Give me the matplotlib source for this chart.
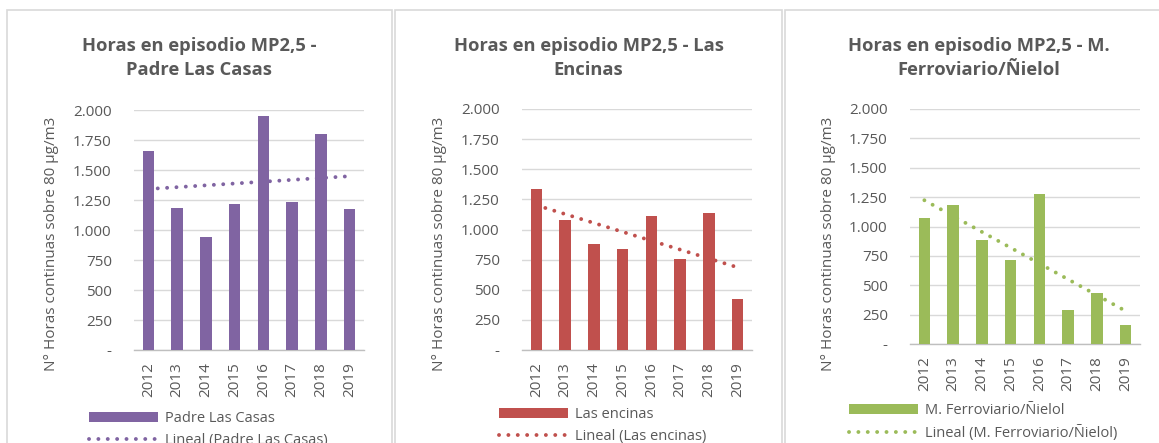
import numpy as np
import matplotlib
matplotlib.use("Agg")
import matplotlib.pyplot as plt
from matplotlib.patches import Rectangle, Patch
from matplotlib.lines import Line2D
from matplotlib.ticker import FuncFormatter

plt.rcParams['font.family'] = ['Open Sans', 'DejaVu Sans']

years = ['2012', '2013', '2014', '2015', '2016', '2017', '2018', '2019']

padre_las_casas = [1658, 1183, 944, 1217, 1953, 1236, 1797, 1172]
las_encinas = [1335, 1075, 878, 837, 1114, 753, 1136, 421]
ferroviario_nielol = [1069, 1183, 882, 718, 1277, 292, 437, 159]

titles = ['Horas en episodio MP2,5 -\nPadre Las Casas',
          'Horas en episodio MP2,5 - Las\nEncinas',
          'Horas en episodio MP2,5 - M.\nFerroviario/Ñielol']
series_names = ['Padre Las Casas', 'Las encinas', 'M. Ferroviario/Ñielol']
colors = ['#8064A2', '#C0504D', '#9BBB59']
series = [padre_las_casas, las_encinas, ferroviario_nielol]

W, H = 1159, 443
TXT = '#595959'
GRID = '#D9D9D9'

fig = plt.figure(figsize=(W / 100, H / 100), dpi=100)


def px_box(left, top, right, bottom):
    return [left / W, 1 - bottom / H, (right - left) / W, (bottom - top) / H]


def fmt(v, pos):
    if v == 0:
        return '-'
    return f'{v:,.0f}'.replace(',', '.')


# pixel layout of each panel: frame, plot area, y-label x, legend corner
panels = [
    dict(frame=(7, 392), plot=(134, 110, 364, 350), ylab_x=52, leg=(89, 411)),
    dict(frame=(395, 782), plot=(522, 109, 752, 350), ylab_x=440, leg=(499, 407)),
    dict(frame=(785, 1172), plot=(910, 109, 1140, 344), ylab_x=829, leg=(849, 403)),
]

dots = (0, (0.01, 2.4))
x = np.arange(1, len(years) + 1)

for i, p in enumerate(panels):
    fl, fr = p['frame']
    fig.patches.append(Rectangle((fl / W, -0.1), (fr - fl) / W, 1.1 - 10.5 / H,
                                 transform=fig.transFigure, fill=False,
                                 edgecolor=GRID, lw=1.2))
    fig.text((fl + fr) / 2 / W, 1 - 58 / H, titles[i], ha='center', va='center',
             fontsize=13.2, fontweight='bold', color=TXT, linespacing=1.4)

    l, t, r, b = p['plot']
    ax = fig.add_axes(px_box(l, t, r, b))
    vals = np.array(series[i], dtype=float)

    slope, icpt = np.polyfit(x, vals, 1)
    ax.plot(x, slope * x + icpt, color=colors[i], lw=2.8, linestyle=dots,
            dash_capstyle='round', zorder=2)
    ax.bar(x, vals, width=0.4, color=colors[i], zorder=3)

    ax.set_xlim(0.5, len(years) + 0.5)
    ax.set_ylim(0, 2000)
    ax.set_yticks(np.arange(0, 2001, 250))
    ax.yaxis.set_major_formatter(FuncFormatter(fmt))
    ax.set_xticks(x)
    ax.set_xticklabels(years, rotation=90)
    ax.tick_params(axis='both', length=0, labelsize=11, colors=TXT)
    ax.tick_params(axis='y', pad=16)
    ax.tick_params(axis='x', pad=9)
    ax.grid(axis='y', color=GRID, lw=1.0, zorder=0)
    ax.set_axisbelow(True)
    for s in ['top', 'right', 'left']:
        ax.spines[s].set_visible(False)
    ax.spines['bottom'].set_color('#BFBFBF')
    ax.spines['bottom'].set_linewidth(1.0)

    ax.set_ylabel('N° Horas continuas sobre 80 µg/m3', fontsize=11, color=TXT)
    ax.yaxis.set_label_coords((p['ylab_x'] - l) / (r - l), (b - 244) / (b - t))
    ax.yaxis.label.set_va('center')

    handles = [Patch(facecolor=colors[i]),
               Line2D([], [], color=colors[i], lw=2.8, linestyle=dots,
                      dash_capstyle='round')]
    lx, ly = p['leg']
    fig.legend(handles, [series_names[i], f'Lineal ({series_names[i]})'],
               loc='upper left', bbox_to_anchor=(lx / W, 1 - ly / H),
               frameon=False, fontsize=10.5, labelcolor=TXT,
               handlelength=4.7, handleheight=0.65, handletextpad=0.5,
               labelspacing=0.45, borderpad=0, borderaxespad=0)

fig.savefig('out.png', dpi=100, facecolor='white')
